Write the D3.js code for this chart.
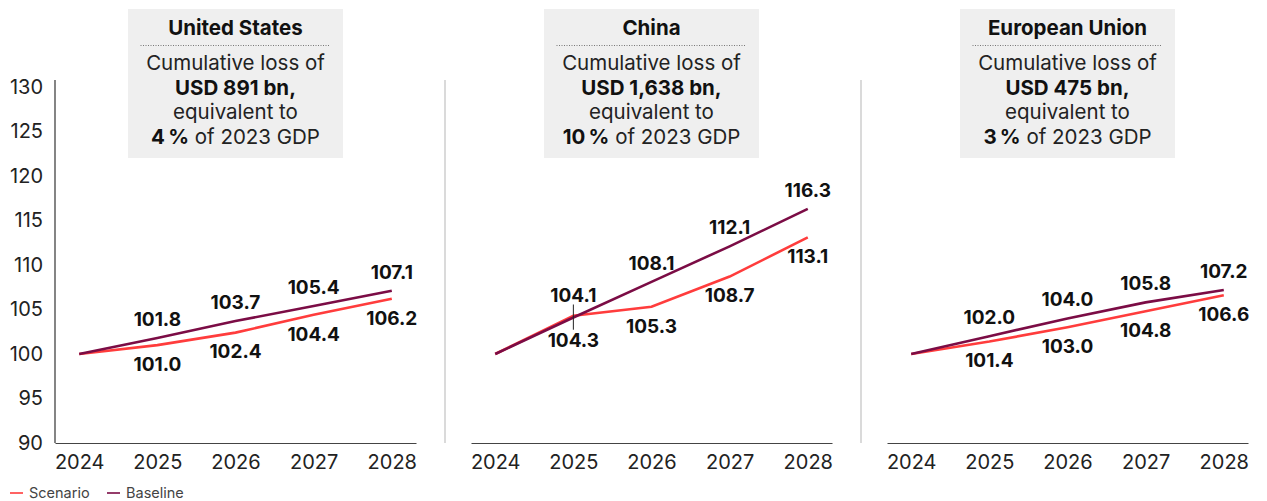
<!DOCTYPE html>
<html>
<head>
<meta charset="utf-8">
<script src="https://cdn.jsdelivr.net/npm/d3@7"></script>
<style>
  html, body { margin: 0; padding: 0; background: #fff; }
  svg { display: block; font-family: Inter, "Noto Sans", sans-serif; }
</style>
</head>
<body>
<svg id="chart" width="1267" height="501"></svg>
<script>
// GDP index (2024 = 100), scenario vs. baseline
const years = [2024, 2025, 2026, 2027, 2028];
const regions = ["United States", "China", "European Union"];

const usScenario = [100, 101.0, 102.4, 104.4, 106.2];
const usBaseline = [100, 101.8, 103.7, 105.4, 107.1];
const cnScenario = [100, 104.3, 105.3, 108.7, 113.1];
const cnBaseline = [100, 104.1, 108.1, 112.1, 116.3];
const euScenario = [100, 101.4, 103.0, 104.8, 106.6];
const euBaseline = [100, 102.0, 104.0, 105.8, 107.2];

const lossUsd = ["891", "1,638", "475"];
const lossPct = ["4", "10", "3"];

const yTicks = [90, 95, 100, 105, 110, 115, 120, 125, 130];
const seriesNames = ["Scenario", "Baseline"];

const panels = regions.map((name, i) => ({
  name,
  scenario: [usScenario, cnScenario, euScenario][i],
  baseline: [usBaseline, cnBaseline, euBaseline][i],
  usd: lossUsd[i],
  pct: lossPct[i]
}));

const colScenario = "#ff3c3c";
const colBaseline = "#7b0c45";

const svg = d3.select("#chart");
const y = d3.scaleLinear().domain([90, 130]).range([443, 87]);
const panelStarts = [55, 471, 887];
const panelWidth = 361;

// y axis (first panel only)
const yAxisG = svg.append("g").attr("transform", "translate(55,0)");
yAxisG.call(d3.axisLeft(y).tickValues(yTicks).tickSize(0).tickPadding(12));
yAxisG.select(".domain").remove();
yAxisG.append("line").attr("x1", 0).attr("x2", 0).attr("y1", 80).attr("y2", 443)
  .attr("stroke", "#333").attr("stroke-width", 1.2);
yAxisG.selectAll(".tick text")
  .attr("font-family", "Inter, sans-serif").attr("font-size", 20).attr("fill", "#222");

panels.forEach((p, i) => {
  const x0 = panelStarts[i];
  const x = d3.scalePoint().domain(years).range([x0, x0 + panelWidth]).padding(0.31);
  const g = svg.append("g");

  // separator line for later panels
  if (i > 0) {
    g.append("line").attr("x1", x0 - 26).attr("x2", x0 - 26).attr("y1", 80).attr("y2", 443)
      .attr("stroke", "#b5b5b5").attr("stroke-width", 1);
  }

  // x axis
  const xAxisG = g.append("g").attr("transform", "translate(0,443)")
    .call(d3.axisBottom(x).tickSize(0).tickPadding(12).tickFormat(d3.format("d")));
  xAxisG.select(".domain").attr("stroke", "#444").attr("stroke-width", 1.2);
  xAxisG.selectAll(".tick text")
    .attr("font-family", "Inter, sans-serif").attr("font-size", 20).attr("fill", "#222");

  // lines
  const line = d3.line().x((d, j) => x(years[j])).y(d => y(d));
  g.append("path").datum(p.scenario).attr("d", line)
    .attr("fill", "none").attr("stroke", colScenario).attr("stroke-width", 2.6);
  g.append("path").datum(p.baseline).attr("d", line)
    .attr("fill", "none").attr("stroke", colBaseline).attr("stroke-width", 2.6);

  // value labels (skip 2024 base year)
  const labelFont = { "font-family": "Inter, sans-serif", "font-size": 19, "font-weight": 700, "fill": "#111" };
  years.forEach((yr, j) => {
    if (j === 0) return;
    const crowded = Math.abs(p.scenario[j] - p.baseline[j]) < 0.5;
    const upOff = crowded ? 22 : 19;
    const downOff = crowded ? 24 : 19;
    const yb = y(p.baseline[j]);
    const ys = y(p.scenario[j]);
    const tb = g.append("text").attr("x", x(yr)).attr("y", yb - upOff)
      .attr("text-anchor", "middle").attr("dy", "0.36em").text(p.baseline[j].toFixed(1));
    const ts = g.append("text").attr("x", x(yr)).attr("y", ys + downOff)
      .attr("text-anchor", "middle").attr("dy", "0.36em").text(p.scenario[j].toFixed(1));
    Object.entries(labelFont).forEach(([k, v]) => { tb.attr(k, v); ts.attr(k, v); });
    if (crowded) {
      g.append("line").attr("x1", x(yr)).attr("x2", x(yr))
        .attr("y1", yb - upOff + 9).attr("y2", ys + downOff - 10)
        .attr("stroke", "#222").attr("stroke-width", 1);
    }
  });

  // header box
  const cx = x(2026);
  const bw = 215;
  const hg = g.append("g");
  hg.append("rect").attr("x", cx - bw / 2).attr("y", 9).attr("width", bw).attr("height", 149)
    .attr("fill", "#efefef");
  hg.append("text").attr("x", cx).attr("y", 35).attr("text-anchor", "middle")
    .attr("font-size", 20.5).attr("font-weight", 700).attr("fill", "#111").text(p.name);
  hg.append("line").attr("x1", cx - 95).attr("x2", cx + 95).attr("y1", 45.5).attr("y2", 45.5)
    .attr("stroke", "#777").attr("stroke-width", 1).attr("stroke-dasharray", "1,1.5");
  hg.append("text").attr("x", cx).attr("y", 70).attr("text-anchor", "middle")
    .attr("font-size", 20.5).attr("fill", "#222").text("Cumulative loss of");
  hg.append("text").attr("x", cx).attr("y", 94.5).attr("text-anchor", "middle")
    .attr("font-size", 20.5).attr("font-weight", 700).attr("fill", "#111").text(`USD ${p.usd} bn,`);
  hg.append("text").attr("x", cx).attr("y", 119).attr("text-anchor", "middle")
    .attr("font-size", 20.5).attr("fill", "#222").text("equivalent to");
  const last = hg.append("text").attr("x", cx).attr("y", 143.5).attr("text-anchor", "middle")
    .attr("font-size", 20.5).attr("fill", "#222");
  last.append("tspan").attr("font-weight", 700).attr("fill", "#111").text(`${p.pct}\u2009%`);
  last.append("tspan").text(" of 2023 GDP");
});

// legend
const legend = svg.append("g").attr("transform", "translate(10,493)");
const legendItems = [
  { name: seriesNames[0], color: colScenario, x: 0 },
  { name: seriesNames[1], color: colBaseline, x: 97 }
];
legendItems.forEach(it => {
  legend.append("line").attr("x1", it.x).attr("x2", it.x + 13).attr("y1", 0).attr("y2", 0)
    .attr("stroke", it.color).attr("stroke-width", 1.6);
  legend.append("text").attr("x", it.x + 19).attr("y", 0).attr("dy", "0.35em")
    .attr("font-size", 14.5).attr("fill", "#444").text(it.name);
});
</script>
</body>
</html>
